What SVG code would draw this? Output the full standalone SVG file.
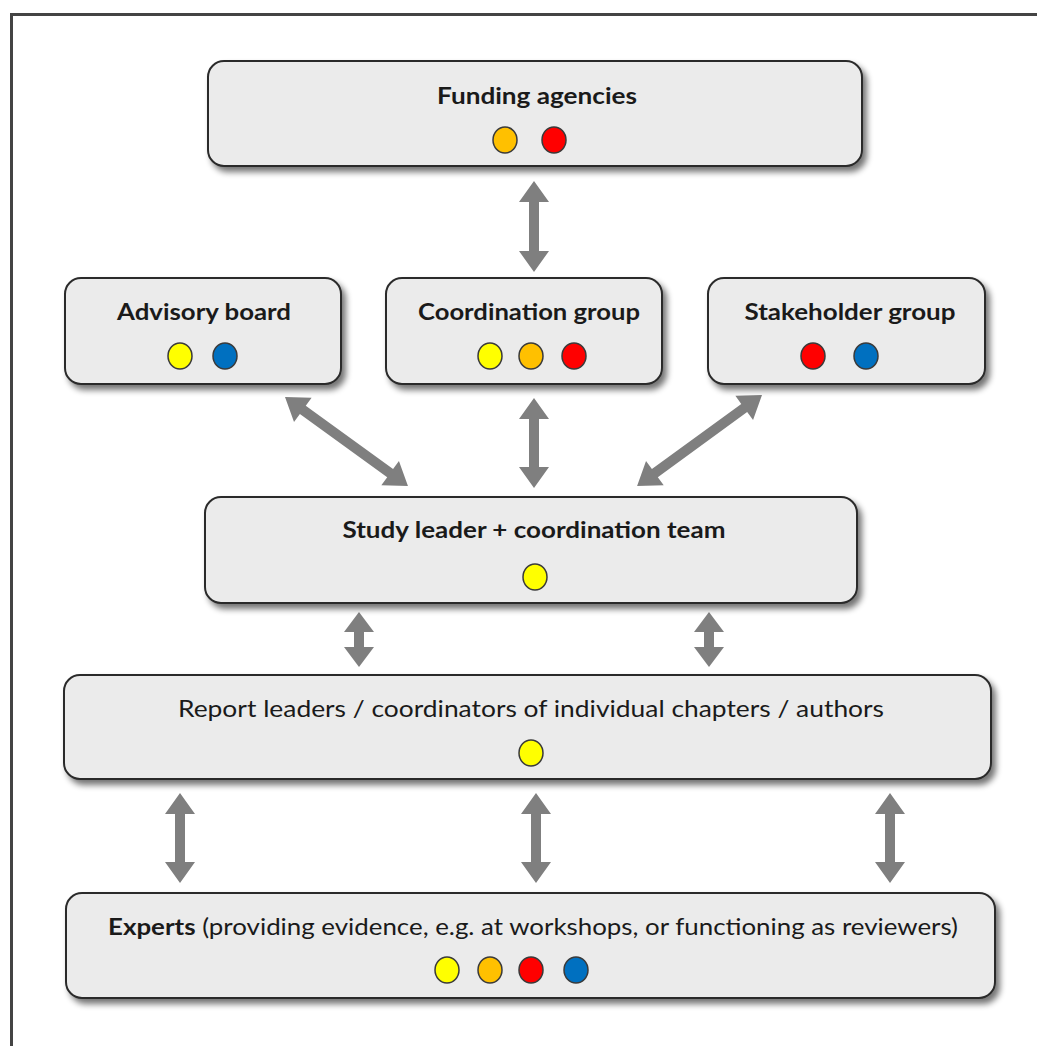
<svg xmlns="http://www.w3.org/2000/svg" width="1037" height="1046" viewBox="0 0 1037 1046">
<style>
.box{fill:#ebebeb;stroke:#2b2b2b;stroke-width:2;filter:url(#sh)}
.t{font-family:Lato,"Liberation Sans",sans-serif;font-size:23px;fill:#1a1a1a;text-anchor:middle}
.b{font-weight:bold}
.dot{stroke:#3a3a3a;stroke-width:1.5}
.y{fill:#ffff00}.o{fill:#ffc000}.r{fill:#ff0000}.bl{fill:#0070c0}
.arr{fill:#7f7f7f}
</style>
<defs>
<filter id="sh" x="-5%" y="-20%" width="115%" height="150%">
<feGaussianBlur in="SourceAlpha" stdDeviation="3"/>
<feOffset dx="4" dy="5" result="o"/>
<feComponentTransfer><feFuncA type="linear" slope="0.55"/></feComponentTransfer>
<feMerge><feMergeNode/><feMergeNode in="SourceGraphic"/></feMerge>
</filter>
</defs>
<rect width="1037" height="1046" fill="#fff"/>
<path d="M11.5 1046 V14.5 H1037" fill="none" stroke="#444" stroke-width="3"/>

<g id="connectors" class="arr">
<polygon transform="translate(534,181) rotate(90)" points="0,0 21,-15 21,-5 70,-5 70,-15 91,0 70,15 70,5 21,5 21,15"/>
<polygon transform="translate(534,398) rotate(90)" points="0,0 21,-15 21,-5 69,-5 69,-15 90,0 69,15 69,5 21,5 21,15"/>
<polygon transform="translate(285,397) rotate(35.9)" points="0,0 22,-15 22,-5 129.8,-5 129.8,-15 151.8,0 129.8,15 129.8,5 22,5 22,15"/>
<polygon transform="translate(762,395) rotate(143.9)" points="0,0 22,-15 22,-5 132.6,-5 132.6,-15 154.6,0 132.6,15 132.6,5 22,5 22,15"/>
<polygon transform="translate(359,612) rotate(90)" points="0,0 20,-15 20,-5 35,-5 35,-15 55,0 35,15 35,5 20,5 20,15"/>
<polygon transform="translate(709,612) rotate(90)" points="0,0 20,-15 20,-5 35,-5 35,-15 55,0 35,15 35,5 20,5 20,15"/>
<polygon transform="translate(180,793) rotate(90)" points="0,0 21,-15 21,-5 69,-5 69,-15 90,0 69,15 69,5 21,5 21,15"/>
<polygon transform="translate(536,793) rotate(90)" points="0,0 21,-15 21,-5 69,-5 69,-15 90,0 69,15 69,5 21,5 21,15"/>
<polygon transform="translate(890,793) rotate(90)" points="0,0 21,-15 21,-5 69,-5 69,-15 90,0 69,15 69,5 21,5 21,15"/>
</g>

<g id="funding">
<rect class="box" x="208" y="61" width="654" height="105" rx="16"/>
<text class="t b" x="537" y="104" textLength="200" lengthAdjust="spacingAndGlyphs">Funding agencies</text>
<ellipse class="dot o" cx="505" cy="140" rx="12" ry="13"/>
<ellipse class="dot r" cx="554" cy="140" rx="12" ry="13"/>
</g>

<g id="advisory">
<rect class="box" x="65" y="278" width="276" height="106" rx="16"/>
<text class="t b" x="204" y="320" textLength="174" lengthAdjust="spacingAndGlyphs">Advisory board</text>
<ellipse class="dot y" cx="180" cy="356" rx="12" ry="13"/>
<ellipse class="dot bl" cx="225" cy="356" rx="12" ry="13"/>
</g>

<g id="coordination">
<rect class="box" x="386" y="278" width="276" height="106" rx="16"/>
<text class="t b" x="529" y="320" textLength="222" lengthAdjust="spacingAndGlyphs">Coordination group</text>
<ellipse class="dot y" cx="490" cy="356" rx="12" ry="13"/>
<ellipse class="dot o" cx="531" cy="356" rx="12" ry="13"/>
<ellipse class="dot r" cx="574" cy="356" rx="12" ry="13"/>
</g>

<g id="stakeholder">
<rect class="box" x="708" y="278" width="277" height="106" rx="16"/>
<text class="t b" x="850" y="320" textLength="211" lengthAdjust="spacingAndGlyphs">Stakeholder group</text>
<ellipse class="dot r" cx="813" cy="356" rx="12" ry="13"/>
<ellipse class="dot bl" cx="866" cy="356" rx="12" ry="13"/>
</g>

<g id="study">
<rect class="box" x="205" y="497" width="652" height="106" rx="16"/>
<text class="t b" x="534" y="538" textLength="383" lengthAdjust="spacingAndGlyphs">Study leader + coordination team</text>
<ellipse class="dot y" cx="535" cy="577" rx="12" ry="13"/>
</g>

<g id="report">
<rect class="box" x="64" y="675" width="927" height="104" rx="16"/>
<text class="t" x="531" y="717" textLength="706" lengthAdjust="spacingAndGlyphs">Report leaders / coordinators of individual chapters / authors</text>
<ellipse class="dot y" cx="531" cy="753" rx="12" ry="13"/>
</g>

<g id="experts">
<rect class="box" x="66" y="893" width="929" height="105" rx="16"/>
<text class="t" x="533" y="935" textLength="850" lengthAdjust="spacingAndGlyphs"><tspan class="b">Experts</tspan> (providing evidence, e.g. at workshops, or functioning as reviewers)</text>
<ellipse class="dot y" cx="447" cy="970" rx="12" ry="13"/>
<ellipse class="dot o" cx="490" cy="970" rx="12" ry="13"/>
<ellipse class="dot r" cx="531" cy="970" rx="12" ry="13"/>
<ellipse class="dot bl" cx="576" cy="970" rx="12" ry="13"/>
</g>
</svg>
